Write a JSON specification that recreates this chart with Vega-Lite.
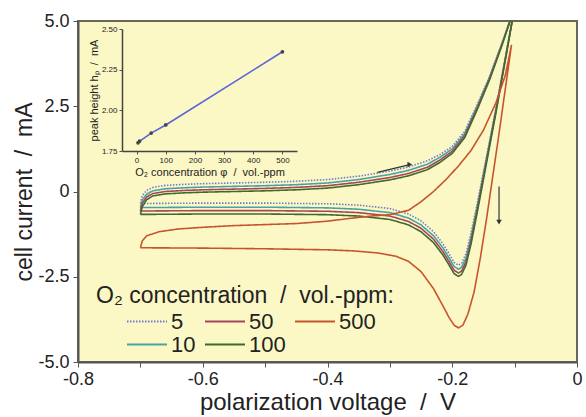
{
  "$schema": "https://vega.github.io/schema/vega-lite/v6.json",
  "width": 499,
  "height": 341,
  "autosize": {"type": "none"},
  "padding": {"left": 78, "top": 21, "right": 9, "bottom": 55},
  "background": "white",
  "config": {
    "font": "Liberation Sans",
    "view": {"fill": "#fbf8c6", "stroke": "#66665a", "strokeWidth": 2},
    "axis": {"grid": false, "labelColor": "#222", "titleColor": "#222", "domainColor": "#555", "tickColor": "#555", "titleFontWeight": "normal", "labelOverlap": false},
    "legend": {"orient": "none", "legendX": 18, "legendY": 264, "columns": 3, "direction": "vertical", "gridAlign": "none",
      "titleFontSize": 23, "titleFontWeight": "normal", "titleColor": "#222", "titleLimit": 500, "labelFontSize": 22, "labelColor": "#222",
      "symbolType": "stroke", "symbolSize": 1600, "symbolStrokeWidth": 1.8, "symbolOffset": 30, "columnPadding": -22, "rowPadding": 0,
      "labelOffset": 3, "titlePadding": 3, "clipHeight": 21}
  },
  "layer": [
    {
      "data": {"values": [
        {"ppm":"5","U":-0.7,"I":-0.35},{"ppm":"5","U":-0.697,"I":-0.12},{"ppm":"5","U":-0.69,"I":0.03},{"ppm":"5","U":-0.68,"I":0.12},{"ppm":"5","U":-0.66,"I":0.18},{"ppm":"5","U":-0.63,"I":0.21},{"ppm":"5","U":-0.6,"I":0.23},{"ppm":"5","U":-0.55,"I":0.25},{"ppm":"5","U":-0.5,"I":0.27},{"ppm":"5","U":-0.45,"I":0.3},{"ppm":"5","U":-0.4,"I":0.35},{"ppm":"5","U":-0.35,"I":0.45},{"ppm":"5","U":-0.3,"I":0.6},{"ppm":"5","U":-0.27,"I":0.72},{"ppm":"5","U":-0.24,"I":0.9},{"ppm":"5","U":-0.22,"I":1.08},{"ppm":"5","U":-0.2,"I":1.32},{"ppm":"5","U":-0.18,"I":1.76},{"ppm":"5","U":-0.16,"I":2.55},{"ppm":"5","U":-0.14,"I":3.38},{"ppm":"5","U":-0.12,"I":4.37},{"ppm":"5","U":-0.1,"I":5.4},
        {"ppm":"5","U":-0.11,"I":4.42},{"ppm":"5","U":-0.12,"I":3.43},{"ppm":"5","U":-0.13,"I":2.45},{"ppm":"5","U":-0.14,"I":1.5},{"ppm":"5","U":-0.15,"I":0.57},{"ppm":"5","U":-0.16,"I":-0.36},{"ppm":"5","U":-0.17,"I":-1.23},{"ppm":"5","U":-0.178,"I":-1.83},{"ppm":"5","U":-0.185,"I":-2.1},{"ppm":"5","U":-0.19,"I":-2.16},{"ppm":"5","U":-0.197,"I":-2.08},{"ppm":"5","U":-0.205,"I":-1.83},{"ppm":"5","U":-0.215,"I":-1.53},{"ppm":"5","U":-0.23,"I":-1.18},{"ppm":"5","U":-0.25,"I":-0.86},{"ppm":"5","U":-0.27,"I":-0.66},{"ppm":"5","U":-0.3,"I":-0.5},{"ppm":"5","U":-0.35,"I":-0.4},{"ppm":"5","U":-0.4,"I":-0.36},{"ppm":"5","U":-0.5,"I":-0.34},{"ppm":"5","U":-0.6,"I":-0.34},{"ppm":"5","U":-0.68,"I":-0.35},{"ppm":"5","U":-0.7,"I":-0.35},

        {"ppm":"10","U":-0.7,"I":-0.47},{"ppm":"10","U":-0.697,"I":-0.25},{"ppm":"10","U":-0.69,"I":-0.08},{"ppm":"10","U":-0.68,"I":0.02},{"ppm":"10","U":-0.66,"I":0.08},{"ppm":"10","U":-0.63,"I":0.11},{"ppm":"10","U":-0.6,"I":0.13},{"ppm":"10","U":-0.55,"I":0.15},{"ppm":"10","U":-0.5,"I":0.17},{"ppm":"10","U":-0.45,"I":0.2},{"ppm":"10","U":-0.4,"I":0.25},{"ppm":"10","U":-0.35,"I":0.35},{"ppm":"10","U":-0.3,"I":0.5},{"ppm":"10","U":-0.27,"I":0.62},{"ppm":"10","U":-0.24,"I":0.8},{"ppm":"10","U":-0.22,"I":1.0},{"ppm":"10","U":-0.2,"I":1.25},{"ppm":"10","U":-0.18,"I":1.7},{"ppm":"10","U":-0.16,"I":2.5},{"ppm":"10","U":-0.14,"I":3.35},{"ppm":"10","U":-0.12,"I":4.35},{"ppm":"10","U":-0.1,"I":5.4},
        {"ppm":"10","U":-0.11,"I":4.4},{"ppm":"10","U":-0.12,"I":3.4},{"ppm":"10","U":-0.13,"I":2.4},{"ppm":"10","U":-0.14,"I":1.45},{"ppm":"10","U":-0.15,"I":0.5},{"ppm":"10","U":-0.16,"I":-0.45},{"ppm":"10","U":-0.17,"I":-1.35},{"ppm":"10","U":-0.178,"I":-1.95},{"ppm":"10","U":-0.185,"I":-2.22},{"ppm":"10","U":-0.19,"I":-2.28},{"ppm":"10","U":-0.197,"I":-2.2},{"ppm":"10","U":-0.205,"I":-1.95},{"ppm":"10","U":-0.215,"I":-1.65},{"ppm":"10","U":-0.23,"I":-1.3},{"ppm":"10","U":-0.25,"I":-0.98},{"ppm":"10","U":-0.27,"I":-0.78},{"ppm":"10","U":-0.3,"I":-0.62},{"ppm":"10","U":-0.35,"I":-0.52},{"ppm":"10","U":-0.4,"I":-0.48},{"ppm":"10","U":-0.5,"I":-0.46},{"ppm":"10","U":-0.6,"I":-0.46},{"ppm":"10","U":-0.68,"I":-0.47},{"ppm":"10","U":-0.7,"I":-0.47},

        {"ppm":"50","U":-0.7,"I":-0.57},{"ppm":"50","U":-0.697,"I":-0.35},{"ppm":"50","U":-0.69,"I":-0.16},{"ppm":"50","U":-0.68,"I":-0.06},{"ppm":"50","U":-0.66,"I":0.0},{"ppm":"50","U":-0.63,"I":0.03},{"ppm":"50","U":-0.6,"I":0.05},{"ppm":"50","U":-0.55,"I":0.07},{"ppm":"50","U":-0.5,"I":0.09},{"ppm":"50","U":-0.45,"I":0.12},{"ppm":"50","U":-0.4,"I":0.17},{"ppm":"50","U":-0.35,"I":0.27},{"ppm":"50","U":-0.3,"I":0.41},{"ppm":"50","U":-0.27,"I":0.53},{"ppm":"50","U":-0.24,"I":0.71},{"ppm":"50","U":-0.22,"I":0.92},{"ppm":"50","U":-0.2,"I":1.18},{"ppm":"50","U":-0.18,"I":1.64},{"ppm":"50","U":-0.16,"I":2.45},{"ppm":"50","U":-0.14,"I":3.32},{"ppm":"50","U":-0.12,"I":4.33},{"ppm":"50","U":-0.1,"I":5.4},
        {"ppm":"50","U":-0.11,"I":4.38},{"ppm":"50","U":-0.12,"I":3.37},{"ppm":"50","U":-0.13,"I":2.36},{"ppm":"50","U":-0.14,"I":1.4},{"ppm":"50","U":-0.15,"I":0.43},{"ppm":"50","U":-0.16,"I":-0.53},{"ppm":"50","U":-0.17,"I":-1.45},{"ppm":"50","U":-0.178,"I":-2.06},{"ppm":"50","U":-0.185,"I":-2.33},{"ppm":"50","U":-0.19,"I":-2.39},{"ppm":"50","U":-0.197,"I":-2.31},{"ppm":"50","U":-0.205,"I":-2.06},{"ppm":"50","U":-0.215,"I":-1.76},{"ppm":"50","U":-0.23,"I":-1.4},{"ppm":"50","U":-0.25,"I":-1.08},{"ppm":"50","U":-0.27,"I":-0.88},{"ppm":"50","U":-0.3,"I":-0.72},{"ppm":"50","U":-0.35,"I":-0.62},{"ppm":"50","U":-0.4,"I":-0.58},{"ppm":"50","U":-0.5,"I":-0.56},{"ppm":"50","U":-0.6,"I":-0.56},{"ppm":"50","U":-0.68,"I":-0.57},{"ppm":"50","U":-0.7,"I":-0.57},

        {"ppm":"100","U":-0.7,"I":-0.67},{"ppm":"100","U":-0.697,"I":-0.45},{"ppm":"100","U":-0.69,"I":-0.24},{"ppm":"100","U":-0.68,"I":-0.13},{"ppm":"100","U":-0.66,"I":-0.07},{"ppm":"100","U":-0.63,"I":-0.04},{"ppm":"100","U":-0.6,"I":-0.02},{"ppm":"100","U":-0.55,"I":0.0},{"ppm":"100","U":-0.5,"I":0.02},{"ppm":"100","U":-0.45,"I":0.05},{"ppm":"100","U":-0.4,"I":0.1},{"ppm":"100","U":-0.35,"I":0.2},{"ppm":"100","U":-0.3,"I":0.34},{"ppm":"100","U":-0.27,"I":0.46},{"ppm":"100","U":-0.24,"I":0.64},{"ppm":"100","U":-0.22,"I":0.85},{"ppm":"100","U":-0.2,"I":1.12},{"ppm":"100","U":-0.18,"I":1.58},{"ppm":"100","U":-0.16,"I":2.4},{"ppm":"100","U":-0.14,"I":3.28},{"ppm":"100","U":-0.12,"I":4.3},{"ppm":"100","U":-0.1,"I":5.4},
        {"ppm":"100","U":-0.11,"I":4.36},{"ppm":"100","U":-0.12,"I":3.33},{"ppm":"100","U":-0.13,"I":2.3},{"ppm":"100","U":-0.14,"I":1.33},{"ppm":"100","U":-0.15,"I":0.35},{"ppm":"100","U":-0.16,"I":-0.62},{"ppm":"100","U":-0.17,"I":-1.55},{"ppm":"100","U":-0.178,"I":-2.16},{"ppm":"100","U":-0.185,"I":-2.43},{"ppm":"100","U":-0.19,"I":-2.49},{"ppm":"100","U":-0.197,"I":-2.41},{"ppm":"100","U":-0.205,"I":-2.16},{"ppm":"100","U":-0.215,"I":-1.86},{"ppm":"100","U":-0.23,"I":-1.5},{"ppm":"100","U":-0.25,"I":-1.18},{"ppm":"100","U":-0.27,"I":-0.98},{"ppm":"100","U":-0.3,"I":-0.82},{"ppm":"100","U":-0.35,"I":-0.72},{"ppm":"100","U":-0.4,"I":-0.68},{"ppm":"100","U":-0.5,"I":-0.66},{"ppm":"100","U":-0.6,"I":-0.66},{"ppm":"100","U":-0.68,"I":-0.67},{"ppm":"100","U":-0.7,"I":-0.67},

        {"ppm":"500","U":-0.7,"I":-1.65},{"ppm":"500","U":-0.697,"I":-1.45},{"ppm":"500","U":-0.69,"I":-1.3},{"ppm":"500","U":-0.67,"I":-1.18},{"ppm":"500","U":-0.64,"I":-1.1},{"ppm":"500","U":-0.6,"I":-1.05},{"ppm":"500","U":-0.55,"I":-1.0},{"ppm":"500","U":-0.5,"I":-0.97},{"ppm":"500","U":-0.45,"I":-0.94},{"ppm":"500","U":-0.4,"I":-0.87},{"ppm":"500","U":-0.36,"I":-0.78},{"ppm":"500","U":-0.33,"I":-0.72},{"ppm":"500","U":-0.3,"I":-0.68},{"ppm":"500","U":-0.27,"I":-0.55},{"ppm":"500","U":-0.25,"I":-0.3},{"ppm":"500","U":-0.23,"I":0.0},{"ppm":"500","U":-0.21,"I":0.35},{"ppm":"500","U":-0.19,"I":0.75},{"ppm":"500","U":-0.17,"I":1.2},{"ppm":"500","U":-0.15,"I":1.8},{"ppm":"500","U":-0.13,"I":2.6},{"ppm":"500","U":-0.115,"I":3.4},{"ppm":"500","U":-0.105,"I":4.3},
        {"ppm":"500","U":-0.115,"I":3.0},{"ppm":"500","U":-0.125,"I":1.7},{"ppm":"500","U":-0.135,"I":0.45},{"ppm":"500","U":-0.145,"I":-0.8},{"ppm":"500","U":-0.155,"I":-1.95},{"ppm":"500","U":-0.165,"I":-2.95},{"ppm":"500","U":-0.175,"I":-3.6},{"ppm":"500","U":-0.183,"I":-3.92},{"ppm":"500","U":-0.19,"I":-4.0},{"ppm":"500","U":-0.197,"I":-3.92},{"ppm":"500","U":-0.205,"I":-3.7},{"ppm":"500","U":-0.215,"I":-3.35},{"ppm":"500","U":-0.23,"I":-2.85},{"ppm":"500","U":-0.25,"I":-2.35},{"ppm":"500","U":-0.27,"I":-2.05},{"ppm":"500","U":-0.29,"I":-1.9},{"ppm":"500","U":-0.32,"I":-1.8},{"ppm":"500","U":-0.36,"I":-1.74},{"ppm":"500","U":-0.4,"I":-1.71},{"ppm":"500","U":-0.5,"I":-1.68},{"ppm":"500","U":-0.6,"I":-1.66},{"ppm":"500","U":-0.7,"I":-1.65}
      ]},
      "encoding": {
        "x": {"field": "U", "type": "quantitative", "title": "polarization voltage\u00a0\u00a0/\u00a0\u00a0V",
          "scale": {"domain": [-0.8, 0], "nice": false, "zero": false},
          "axis": {"values": [-0.8, -0.7, -0.6, -0.5, -0.4, -0.3, -0.2, -0.1, 0],
            "labelExpr": "datum.value == -0.8 ? '-0.8' : datum.value == -0.6 ? '-0.6' : datum.value == -0.4 ? '-0.4' : datum.value == -0.2 ? '-0.2' : datum.value == 0 ? '0' : ''",
            "labelFontSize": 18, "titleFontSize": 24, "tickSize": 5, "domainWidth": 2, "labelPadding": 3, "titlePadding": 2, "labelFlush": false}},
        "y": {"field": "I", "type": "quantitative", "title": "cell current\u00a0\u00a0/\u00a0\u00a0mA",
          "scale": {"domain": [-5, 5], "nice": false, "zero": false},
          "axis": {"values": [-5, -2.5, 0, 2.5, 5],
            "labelExpr": "datum.value == 0 ? '0' : (datum.value < 0 ? '-' : '') + format(abs(datum.value), '.1f')",
            "labelFontSize": 18, "titleFontSize": 23, "tickSize": 5, "domainWidth": 2, "labelPadding": 4, "titleX": -42}}
      },
      "layer": [
        {
          "mark": {"type": "line", "strokeWidth": 1.6, "clip": true},
          "encoding": {
            "order": {"value": null},
            "color": {"field": "ppm", "type": "nominal", "title": "O₂ concentration\u00a0\u00a0/\u00a0\u00a0vol.-ppm:",
              "scale": {"domain": ["5", "10", "50", "100", "500"], "range": ["#6a7bd0", "#4aa3a0", "#a8445e", "#3e6b2c", "#c8542e"]},
              "legend": {"labelExpr": "datum.label == '5' ? '\u2007' + '5' : datum.label == '50' ? '\u2007' + '50' : datum.label"}},
            "strokeDash": {"field": "ppm", "type": "nominal", "title": "O₂ concentration\u00a0\u00a0/\u00a0\u00a0vol.-ppm:",
              "scale": {"domain": ["5", "10", "50", "100", "500"], "range": [[1.5, 1.5], [1, 0], [1, 0], [1, 0], [1, 0]]},
              "legend": {"labelExpr": "datum.label == '5' ? '\u2007' + '5' : datum.label == '50' ? '\u2007' + '50' : datum.label"}}
          }
        },
        {
          "data": {"values": [
            {"U": -0.268, "I": 0.79, "U0": -0.32, "I0": 0.56, "dir": "right"},
            {"U": -0.125, "I": -0.9, "U0": -0.125, "I0": 0.15, "dir": "down"}
          ]},
          "layer": [
            {"mark": {"type": "rule", "color": "#333", "strokeWidth": 1.2},
             "encoding": {"x2": {"field": "U0"}, "y2": {"field": "I0"}}},
            {"mark": {"type": "point", "filled": true, "color": "#333", "size": 30, "opacity": 1},
             "encoding": {"shape": {"field": "dir", "type": "nominal", "scale": {"domain": ["right", "down"], "range": ["triangle-right", "triangle-down"]}, "legend": null}}}
          ]
        }
      ]
    },
    {
      "data": {"values": [
        {"conc": 5, "hp": 1.80},
        {"conc": 10, "hp": 1.81},
        {"conc": 50, "hp": 1.86},
        {"conc": 100, "hp": 1.91},
        {"conc": 500, "hp": 2.36}
      ]},
      "encoding": {
        "x": {"field": "conc", "type": "quantitative", "title": "O₂ concentration φ\u00a0\u00a0/\u00a0\u00a0vol.-ppm",
          "scale": {"domain": [-50, 550], "range": [44, 219], "nice": false, "zero": false},
          "axis": {"orient": "bottom", "offset": -211, "values": [0, 100, 200, 300, 400, 500], "labelFontSize": 8, "titleFontSize": 11,
            "tickSize": 3, "labelPadding": 2, "titlePadding": 2, "domainColor": "#444", "domainWidth": 1.5, "labelFlush": false}},
        "y": {"field": "hp", "type": "quantitative", "title": "peak height hₚ\u00a0\u00a0/\u00a0\u00a0mA",
          "scale": {"domain": [1.75, 2.5], "range": [130, 8], "nice": false, "zero": false},
          "axis": {"orient": "left", "offset": -44, "values": [1.75, 2.0, 2.25, 2.5], "format": ".2f", "labelFontSize": 8, "titleFontSize": 11,
            "tickSize": 3, "labelPadding": 2, "titlePadding": 2, "domainColor": "#444", "domainWidth": 1.5}}
      },
      "layer": [
        {"data": {"values": [{}]},
         "mark": {"type": "rect", "fill": "#fbf8c6", "stroke": "#555548", "strokeWidth": 1.5},
         "encoding": {"x": {"datum": -50}, "x2": {"datum": 550}, "y": {"datum": 1.75}, "y2": {"datum": 2.5}}},
        {"mark": {"type": "line", "color": "#5a66d8", "strokeWidth": 1.6}},
        {"mark": {"type": "point", "filled": true, "color": "#444", "size": 14, "opacity": 1}}
      ]
    }
  ],
  "resolve": {"scale": {"x": "independent", "y": "independent"}}
}
